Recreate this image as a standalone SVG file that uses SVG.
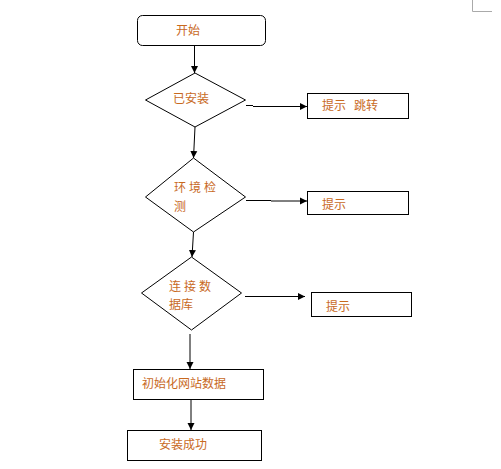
<svg xmlns="http://www.w3.org/2000/svg" width="501" height="469" viewBox="0 0 501 469">
<defs>
<marker id="ah" markerWidth="8" markerHeight="8" refX="7" refY="4" orient="auto" markerUnits="userSpaceOnUse">
<path d="M0,0.5 L7,4 L0,7.5 Z" fill="#000"/>
</marker>
<style>
.shape{fill:#fff;stroke:#000;stroke-width:1}
.lbl{font-family:"Noto Sans CJK SC","Liberation Sans",sans-serif;font-size:12px;fill:#c8691e}
.conn{stroke:#000;stroke-width:1;fill:none}
</style>
</defs>
<rect width="501" height="469" fill="#fff"/>
<path d="M472.5,0 V11.5 H492" fill="none" stroke="#aaa" stroke-width="1"/>
<g id="connectors">
<line class="conn" x1="194.5" y1="45" x2="194.5" y2="73" marker-end="url(#ah)"/>
<path class="conn" d="M246,105.5 H253 M253,106.5 H307" marker-end="url(#ah)"/>
<line class="conn" x1="195" y1="127" x2="193.5" y2="158" marker-end="url(#ah)"/>
<path class="conn" d="M246,200.5 H271 M271,201 H307" marker-end="url(#ah)"/>
<line class="conn" x1="193.5" y1="232" x2="192" y2="257" marker-end="url(#ah)"/>
<line class="conn" x1="245" y1="296.5" x2="305" y2="296.5" marker-end="url(#ah)"/>
<line class="conn" x1="190" y1="334" x2="190" y2="369" marker-end="url(#ah)"/>
<line class="conn" x1="191" y1="399" x2="191" y2="430" marker-end="url(#ah)"/>
</g>
<g id="start">
<rect class="shape" x="137.5" y="15.5" width="128" height="30" rx="5"/>
<text class="lbl" x="176" y="34.5">开始</text>
</g>
<g id="installed">
<polygon class="shape" points="195,73 245.5,100 195,127 145.5,100"/>
<text class="lbl" x="173" y="103">已安装</text>
</g>
<g id="tip-jump">
<rect class="shape" x="307.5" y="93.5" width="101" height="25"/>
<text class="lbl" x="322" y="110" xml:space="preserve">提示   跳转</text>
</g>
<g id="env-check">
<polygon class="shape" points="193.5,158 245.5,197 193.5,232 145.5,197"/>
<text class="lbl" x="174" y="192" letter-spacing="3">环境检</text>
<text class="lbl" x="174" y="211">测</text>
</g>
<g id="tip2">
<rect class="shape" x="307.5" y="191.5" width="101" height="23"/>
<text class="lbl" x="322" y="209">提示</text>
</g>
<g id="db-connect">
<polygon class="shape" points="191.5,257 241.5,293 191.5,330 141.5,293"/>
<text class="lbl" x="169" y="291" letter-spacing="3">连接数</text>
<text class="lbl" x="169" y="309">据库</text>
</g>
<g id="tip3">
<rect class="shape" x="311.5" y="292.5" width="100" height="24"/>
<text class="lbl" x="326" y="311">提示</text>
</g>
<g id="init-data">
<rect class="shape" x="133.5" y="369.5" width="130" height="30"/>
<text class="lbl" x="142" y="388">初始化网站数据</text>
</g>
<g id="success">
<rect class="shape" x="127.5" y="430.5" width="134" height="30"/>
<text class="lbl" x="159" y="449">安装成功</text>
</g>
</svg>
